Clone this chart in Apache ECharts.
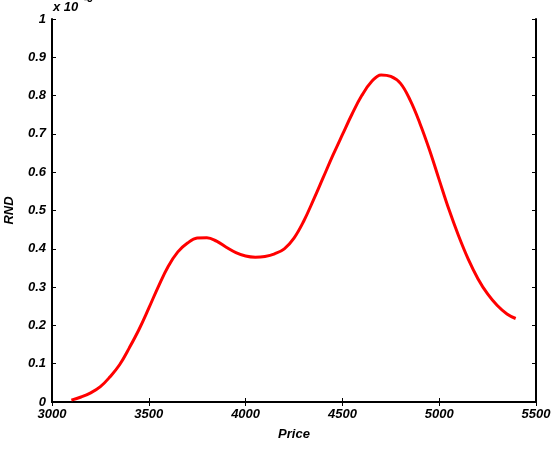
<!DOCTYPE html>
<html>
<head>
<meta charset="utf-8">
<script src="https://cdn.jsdelivr.net/npm/echarts@6/dist/echarts.min.js"></script>
<style>html,body{margin:0;padding:0;background:#fff}#c{width:557px;height:450px}</style>
</head>
<body>
<div id="c"></div>
<script>
var prices = [3100,3150,3200,3250,3300,3350,3400,3450,3500,3550,3600,3650,3700,3750,3800,3850,3900,3950,4000,4050,4100,4150,4200,4250,4300,4350,4400,4450,4500,4550,4600,4650,4700,4750,4800,4850,4900,4950,5000,5050,5100,5150,5200,5250,5300,5350,5395];
var rnd = [0.005,0.013,0.024,0.040,0.066,0.098,0.142,0.190,0.245,0.302,0.354,0.392,0.415,0.428,0.429,0.420,0.404,0.390,0.381,0.378,0.380,0.387,0.400,0.428,0.472,0.527,0.585,0.643,0.698,0.752,0.800,0.836,0.854,0.850,0.832,0.788,0.728,0.658,0.580,0.503,0.434,0.373,0.322,0.282,0.252,0.230,0.218];
var xTicks = ['3000','3500','4000','4500','5000','5500'];
var yTicks = ['0','0.1','0.2','0.3','0.4','0.5','0.6','0.7','0.8','0.9','1'];

var font = {fontFamily:'Liberation Sans, Arial, sans-serif', fontWeight:'bold', fontStyle:'italic', fontSize:13, color:'#000'};
var chart = echarts.init(document.getElementById('c'));
var axisLine = {show:true, lineStyle:{color:'#000', width:2}};
var axisTick = {show:true, inside:true, length:4, lineStyle:{color:'#000', width:1}};
chart.setOption({
  animation:false,
  grid:{left:52, top:19, right:21, bottom:48, containLabel:false, outerBoundsMode:'none'},
  xAxis:[{
    type:'value', min:3000, max:5500, interval:500,
    axisLine:axisLine, axisTick:axisTick, splitLine:{show:false},
    axisLabel:Object.assign({margin:6, formatter:function(v){return xTicks[(v-3000)/500];}}, font),
    name:'Price', nameLocation:'middle', nameGap:26,
    nameTextStyle:Object.assign({}, font)
  },{
    type:'value', position:'top', min:3000, max:5500, interval:500,
    axisLine:axisLine, axisTick:axisTick, axisLabel:{show:false}, splitLine:{show:false}
  }],
  yAxis:[{
    type:'value', min:0, max:1, interval:0.1,
    axisLine:axisLine, axisTick:axisTick, splitLine:{show:false},
    axisLabel:Object.assign({margin:6, formatter:function(v){return yTicks[Math.round(v*10)];}}, font),
    name:'RND', nameLocation:'middle', nameGap:36,
    nameTextStyle:Object.assign({}, font)
  },{
    type:'value', position:'right', min:0, max:1, interval:0.1,
    axisLine:axisLine, axisTick:axisTick, axisLabel:{show:false}, splitLine:{show:false}
  }],
  graphic:[
    {type:'text', left:53, top:1, style:{text:'x 10', font:'italic bold 13px "Liberation Sans", Arial, sans-serif', fill:'#000'}},
    {type:'text', left:84, top:-6, style:{text:'-3', font:'italic bold 10px "Liberation Sans", Arial, sans-serif', fill:'#000'}}
  ],
  series:[{
    type:'line', smooth:0.4, showSymbol:false,
    data:prices.map(function(p,i){return [p, rnd[i]];}),
    lineStyle:{color:'#ff0000', width:3}
  }]
});
</script>
</body>
</html>
